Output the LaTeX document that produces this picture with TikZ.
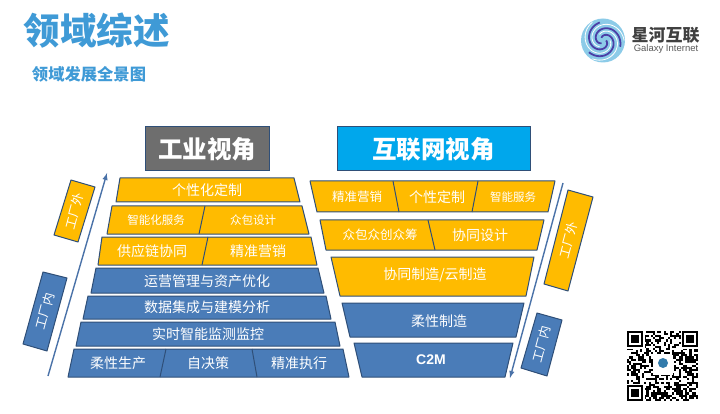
\documentclass[tikz,border=0pt]{standalone}
\usepackage{fontspec}
\setmainfont{Noto Sans CJK SC}
\newfontfamily\latinfont{Liberation Sans}
\definecolor{barblue}{HTML}{4A7CB8}
\definecolor{bargold}{HTML}{FFBB00}
\definecolor{baredge}{HTML}{2F4F78}
\definecolor{titleblue}{HTML}{3F9AD6}
\definecolor{headgray}{HTML}{6E6E6E}
\definecolor{headcyan}{HTML}{00A7EC}
\definecolor{flowblue}{HTML}{4A72A8}
\definecolor{logoarm}{HTML}{4B3FA6}
\definecolor{logoring}{HTML}{8CCBE8}
\tikzset{
  bluebar/.style={draw=baredge, fill=barblue, line width=1pt, line join=round},
  goldbar/.style={draw=baredge, fill=bargold, line width=1pt, line join=round},
  barlabel/.style={text=white, font=\fontsize{14}{14}\selectfont, inner sep=0pt},
  smalllabel/.style={text=white, font=\fontsize{11.5}{12}\selectfont, inner sep=0pt},
  sidelabel/.style={text=white, font=\fontsize{12.5}{13}\selectfont, inner sep=0pt, rotate=75},
  headbox/.style={draw=baredge, line width=1pt, text=white, font=\fontsize{24.5}{25}\selectfont\bfseries, inner sep=0pt, minimum height=44pt},
  flowline/.style={draw=flowblue, line width=1.4pt, -latex}
}
\begin{document}
\begin{tikzpicture}[x=1pt,y=-1pt]
\useasboundingbox (0,0) rectangle (720,414);
\node [text=titleblue, font=\fontsize{36.5}{37}\selectfont\bfseries, inner sep=0pt] (title) at (96.5,31) {领域综述};
\node [text=titleblue, font=\fontsize{16.3}{17}\selectfont\bfseries, inner sep=0pt] (subtitle) at (89,74) {领域发展全景图};
\node [headbox, fill=headgray, minimum width=124pt] (indview) at (207,149) {工业视角};
\node [headbox, fill=headcyan, minimum width=193pt] (netview) at (433.5,149) {互联网视角};

\draw [goldbar] (120,178) -- (294,178) -- (300,202) -- (116,202) -- cycle;
\draw [goldbar] (112,206) -- (302,206) -- (309,234) -- (107,234) -- cycle;
\draw [goldbar] (205,206) -- (199,234);
\draw [goldbar] (102,237) -- (311,237) -- (317,265) -- (98,265) -- cycle;
\draw [goldbar] (208,237) -- (202,265);
\draw [bluebar] (96,268) -- (318,268) -- (324,293) -- (91,293) -- cycle;
\draw [bluebar] (88,296) -- (326,296) -- (331,319) -- (83,319) -- cycle;
\draw [bluebar] (81,322) -- (335,322) -- (340,346) -- (76,346) -- cycle;
\draw [bluebar] (74,349) -- (343,349) -- (349,377) -- (68,377) -- cycle;
\draw [bluebar] (166,349) -- (160,377);
\draw [bluebar] (252,349) -- (257,377);

\node [barlabel] (custom) at (207,190) {个性化定制};
\node [smalllabel] (service) at (156,220) {智能化服务};
\node [smalllabel] (crowd) at (253,220) {众包设计};
\node [barlabel] (supply) at (152,251) {供应链协同};
\node [barlabel] (market) at (258,251) {精准营销};
\node [barlabel] (operate) at (207,281) {运营管理与资产优化};
\node [barlabel] (dataint) at (207,307) {数据集成与建模分析};
\node [barlabel] (monitor) at (208,334) {实时智能监测监控};
\node [barlabel] (flexprod) at (118,363) {柔性生产};
\node [barlabel] (selfdec) at (208,363) {自决策};
\node [barlabel] (execute) at (299,363) {精准执行};

\draw [goldbar] (310,181) -- (555,181) -- (548,212) -- (317,212) -- cycle;
\draw [goldbar] (393,181) -- (399,212);
\draw [goldbar] (478,181) -- (472,212);
\draw [goldbar] (320,220) -- (544,220) -- (537,250) -- (326,250) -- cycle;
\draw [goldbar] (428,220) -- (435,250);
\draw [goldbar] (331,257) -- (534,257) -- (526,296) -- (340,296) -- cycle;
\draw [bluebar] (342,303) -- (524,303) -- (516,337) -- (350,337) -- cycle;
\draw [bluebar] (354,343) -- (513,343) -- (505,377) -- (362,377) -- cycle;

\node [barlabel, font=\fontsize{12.5}{13}\selectfont] (netmarket) at (357,197) {精准营销};
\node [barlabel] (netcustom) at (437,197) {个性定制};
\node [smalllabel] (netservice) at (513,197) {智能服务};
\node [barlabel, font=\fontsize{12.5}{13}\selectfont] (netcrowd) at (380,235) {众包众创众筹};
\node [barlabel] (netdesign) at (480,235) {协同设计};
\node [barlabel] (cloud) at (435,275) {协同制造/云制造};
\node [barlabel] (flexmake) at (439,321) {柔性制造};
\node [barlabel, font=\fontsize{14}{14}\selectfont\latinfont\bfseries] (ctwom) at (431,360) {C2M};

\draw [goldbar] (71,180) -- (95,187) -- (78,242) -- (54,235) -- cycle;
\draw [bluebar] (43,272) -- (67,278) -- (47,351) -- (23,344) -- cycle;
\draw [goldbar] (568,190) -- (593,197) -- (568,291) -- (544,284) -- cycle;
\draw [bluebar] (537,313) -- (562,320) -- (547,376) -- (521,368) -- cycle;
\node [sidelabel] (outleft) at (74.5,211) {工厂外};
\node [sidelabel] (inleft) at (45,311.5) {工厂内};
\node [sidelabel] (outright) at (568.5,240.5) {工厂外};
\node [sidelabel] (inright) at (541.5,344.5) {工厂内};

\coordinate (upstart) at (48,376);
\coordinate (upend) at (107,173);
\coordinate (downstart) at (563,183);
\coordinate (downend) at (510,378);
\draw [flowline] (upstart) -- (upend);
\draw [flowline] (downstart) -- (downend);

\fill [color=logoring] (603,40.5) circle (22);
\foreach \a in {0,120,240} {
  \draw [draw=logoarm, line width=1.8pt, rotate around={\a:(603,40.5)}, domain=0:260, samples=40, smooth]
    plot ({603+(3+\x/17)*cos(\x)},{40.5+(3+\x/17)*sin(\x)});
  \draw [draw=white, line width=0.8pt, rotate around={\a:(603,40.5)}, domain=0:240, samples=40, smooth]
    plot ({603+(7+\x/17)*cos(\x)},{40.5+(7+\x/17)*sin(\x)});
}
\node [text=black!75, font=\fontsize{17}{17}\selectfont\bfseries, inner sep=0pt] (logoname) at (665.5,35) {星河互联};
\node [text=black!65, font=\fontsize{9.5}{10}\selectfont\latinfont, inner sep=0pt] (logoeng) at (666,49.5) {Galaxy Internet};

\pgfmathsetseed{4711}
\foreach \i in {0,...,32} {
  \foreach \j in {0,...,32} {
    \pgfmathparse{rnd<0.52 ? 1 : 0}
    \ifnum\pgfmathresult=1
      \fill (627+\i*2.15,331+\j*2.12) rectangle +(2.15,2.12);
    \fi
  }
}
\foreach \fx/\fy in {627/331,682/331,627/385} {
  \fill [white] (\fx-1.5,\fy-1.5) rectangle +(19,19);
  \fill (\fx,\fy) rectangle +(16,16);
  \fill [white] (\fx+2.2,\fy+2.2) rectangle +(11.6,11.6);
  \fill (\fx+4.4,\fy+4.4) rectangle +(7.2,7.2);
}
\fill [white] (653,355) rectangle (673,375);
\fill [color=titleblue!80!black] (663,363) circle (5);
\end{tikzpicture}
\end{document}
